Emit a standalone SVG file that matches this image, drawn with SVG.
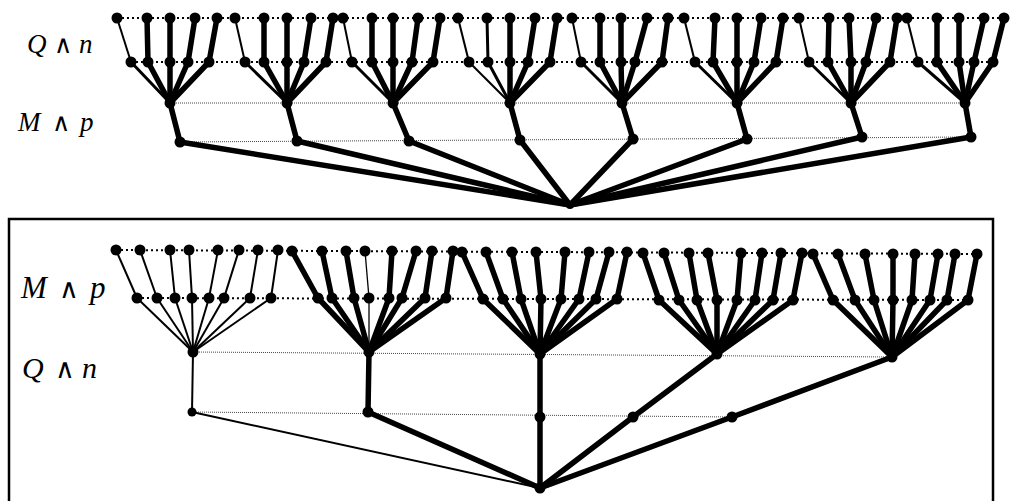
<svg xmlns="http://www.w3.org/2000/svg" width="1010" height="501" viewBox="0 0 1010 501">
<style>
.k{stroke:#000;stroke-width:5.5;stroke-linecap:round;fill:none}
.m{stroke:#000;stroke-width:3;stroke-linecap:round;fill:none}
.s{stroke:#000;stroke-width:2;fill:none}
.h{stroke:#000;stroke-width:1.3;fill:none}
.dot{stroke:#000;stroke-width:2;stroke-dasharray:2 3;fill:none}
.fine{stroke:#444;stroke-width:1;stroke-dasharray:1 1;fill:none}
circle{fill:#000}
.v{font-family:"Liberation Serif","Times New Roman",serif;font-style:italic;fill:#000}
.wg{font-family:"DejaVu Sans",sans-serif;font-style:normal;font-weight:200;fill:#000}
</style>
<rect x="9" y="219" width="984" height="300" fill="none" stroke="#000" stroke-width="2.5"/>
<g id="labels">
<text class="v" x="27" y="53" font-size="27">Q</text><text class="wg" x="54" y="53" font-size="25">∧</text><text class="v" x="79" y="53" font-size="27">n</text>
<text class="v" x="18" y="131" font-size="27">M</text><text class="wg" x="52" y="131" font-size="25">∧</text><text class="v" x="80" y="131" font-size="27">p</text>
<text class="v" x="21" y="298" font-size="31">M</text><text class="wg" x="59" y="298" font-size="27">∧</text><text class="v" x="90" y="298" font-size="31">p</text>
<text class="v" x="22" y="378" font-size="30">Q</text><text class="wg" x="55" y="378" font-size="27">∧</text><text class="v" x="82" y="378" font-size="30">n</text>
</g>
<g id="levels">
<line class="dot" x1="117" y1="18" x2="1005" y2="18"/>
<line class="dot" x1="131" y1="62" x2="993" y2="62"/>
<line class="fine" x1="170" y1="103" x2="965" y2="103"/>
<line class="fine" x1="180" y1="142" x2="971" y2="137"/>
<line class="dot" x1="116" y1="250" x2="977" y2="254"/>
<line class="dot" x1="137" y1="298" x2="968" y2="300"/>
<line class="fine" x1="193" y1="352" x2="892" y2="357"/>
<line class="fine" x1="192" y1="412" x2="732" y2="417"/>
</g>
<g id="connectors">
<line class="s" x1="117" y1="18" x2="131" y2="62"/><line class="k" x1="147" y1="18" x2="148" y2="62"/><line class="k" x1="170" y1="18" x2="170" y2="62"/><line class="k" x1="195" y1="18" x2="188" y2="62"/><line class="k" x1="217" y1="18" x2="209" y2="62"/>
<line class="m" x1="131" y1="62" x2="170" y2="103"/><line class="k" x1="148" y1="62" x2="170" y2="103"/><line class="k" x1="170" y1="62" x2="170" y2="103"/><line class="k" x1="188" y1="62" x2="170" y2="103"/><line class="k" x1="209" y1="62" x2="170" y2="103"/>
<line class="k" x1="170" y1="103" x2="180" y2="142"/><line class="k" x1="180" y1="142" x2="570" y2="205"/>
<line class="s" x1="235" y1="18" x2="245" y2="62"/><line class="k" x1="264" y1="18" x2="264" y2="62"/><line class="k" x1="287" y1="18" x2="287" y2="62"/><line class="k" x1="311" y1="18" x2="304" y2="62"/><line class="k" x1="333" y1="18" x2="326" y2="62"/>
<line class="m" x1="245" y1="62" x2="287" y2="103"/><line class="k" x1="264" y1="62" x2="287" y2="103"/><line class="k" x1="287" y1="62" x2="287" y2="103"/><line class="k" x1="304" y1="62" x2="287" y2="103"/><line class="k" x1="326" y1="62" x2="287" y2="103"/>
<line class="k" x1="287" y1="103" x2="297" y2="141"/><line class="k" x1="297" y1="141" x2="570" y2="205"/>
<line class="s" x1="343" y1="18" x2="352" y2="62"/><line class="k" x1="372" y1="18" x2="372" y2="62"/><line class="k" x1="393" y1="18" x2="393" y2="62"/><line class="k" x1="418" y1="18" x2="412" y2="62"/><line class="k" x1="440" y1="18" x2="433" y2="62"/>
<line class="m" x1="352" y1="62" x2="393" y2="103"/><line class="k" x1="372" y1="62" x2="393" y2="103"/><line class="k" x1="393" y1="62" x2="393" y2="103"/><line class="k" x1="412" y1="62" x2="393" y2="103"/><line class="k" x1="433" y1="62" x2="393" y2="103"/>
<line class="k" x1="393" y1="103" x2="409" y2="141"/><line class="k" x1="409" y1="141" x2="570" y2="205"/>
<line class="s" x1="458" y1="18" x2="469" y2="62"/><line class="m" x1="487" y1="18" x2="488" y2="62"/><line class="k" x1="510" y1="18" x2="510" y2="62"/><line class="k" x1="535" y1="18" x2="528" y2="62"/><line class="k" x1="557" y1="18" x2="550" y2="62"/>
<line class="s" x1="469" y1="62" x2="510" y2="103"/><line class="m" x1="488" y1="62" x2="510" y2="103"/><line class="k" x1="510" y1="62" x2="510" y2="103"/><line class="k" x1="528" y1="62" x2="510" y2="103"/><line class="k" x1="550" y1="62" x2="510" y2="103"/>
<line class="k" x1="510" y1="103" x2="520" y2="140"/><line class="k" x1="520" y1="140" x2="570" y2="205"/>
<line class="s" x1="572" y1="18" x2="581" y2="62"/><line class="k" x1="600" y1="18" x2="600" y2="62"/><line class="k" x1="621" y1="18" x2="621" y2="62"/><line class="k" x1="647" y1="18" x2="635" y2="62"/><line class="k" x1="668" y1="18" x2="662" y2="62"/>
<line class="m" x1="581" y1="62" x2="622" y2="103"/><line class="k" x1="600" y1="62" x2="622" y2="103"/><line class="k" x1="621" y1="62" x2="622" y2="103"/><line class="k" x1="635" y1="62" x2="622" y2="103"/><line class="k" x1="662" y1="62" x2="622" y2="103"/>
<line class="k" x1="622" y1="103" x2="633" y2="139"/><line class="k" x1="633" y1="139" x2="570" y2="205"/>
<line class="s" x1="684" y1="18" x2="695" y2="62"/><line class="k" x1="715" y1="18" x2="713" y2="62"/><line class="k" x1="737" y1="18" x2="737" y2="62"/><line class="k" x1="761" y1="18" x2="754" y2="62"/><line class="k" x1="783" y1="18" x2="776" y2="62"/>
<line class="m" x1="695" y1="62" x2="737" y2="103"/><line class="k" x1="713" y1="62" x2="737" y2="103"/><line class="k" x1="737" y1="62" x2="737" y2="103"/><line class="k" x1="754" y1="62" x2="737" y2="103"/><line class="k" x1="776" y1="62" x2="737" y2="103"/>
<line class="k" x1="737" y1="103" x2="747" y2="139"/><line class="k" x1="747" y1="139" x2="570" y2="205"/>
<line class="s" x1="799" y1="18" x2="809" y2="62"/><line class="k" x1="829" y1="18" x2="828" y2="62"/><line class="k" x1="849" y1="18" x2="851" y2="62"/><line class="k" x1="876" y1="18" x2="866" y2="62"/><line class="k" x1="897" y1="18" x2="890" y2="62"/>
<line class="m" x1="809" y1="62" x2="851" y2="103"/><line class="k" x1="828" y1="62" x2="851" y2="103"/><line class="k" x1="851" y1="62" x2="851" y2="103"/><line class="k" x1="866" y1="62" x2="851" y2="103"/><line class="k" x1="890" y1="62" x2="851" y2="103"/>
<line class="k" x1="851" y1="103" x2="862" y2="137"/><line class="k" x1="862" y1="137" x2="570" y2="205"/>
<line class="s" x1="907" y1="18" x2="918" y2="62"/><line class="k" x1="937" y1="18" x2="937" y2="62"/><line class="k" x1="959" y1="18" x2="959" y2="62"/><line class="k" x1="984" y1="18" x2="974" y2="62"/><line class="k" x1="1004" y1="18" x2="993" y2="62"/>
<line class="m" x1="918" y1="62" x2="965" y2="103"/><line class="k" x1="937" y1="62" x2="965" y2="103"/><line class="k" x1="959" y1="62" x2="965" y2="103"/><line class="k" x1="974" y1="62" x2="965" y2="103"/><line class="k" x1="993" y1="62" x2="965" y2="103"/>
<line class="k" x1="965" y1="103" x2="971" y2="137"/><line class="k" x1="971" y1="137" x2="570" y2="205"/>
<line class="s" x1="116" y1="250" x2="137" y2="298"/><line class="s" x1="140" y1="250" x2="157" y2="298"/><line class="s" x1="170" y1="250" x2="175" y2="298"/><line class="s" x1="189" y1="250" x2="192" y2="298"/><line class="s" x1="218" y1="250" x2="209" y2="298"/><line class="s" x1="239" y1="250" x2="224" y2="298"/><line class="s" x1="258" y1="250" x2="250" y2="298"/><line class="s" x1="278" y1="250" x2="271" y2="298"/>
<line class="s" x1="137" y1="298" x2="193" y2="352"/><line class="s" x1="157" y1="298" x2="193" y2="352"/><line class="s" x1="175" y1="298" x2="193" y2="352"/><line class="s" x1="192" y1="298" x2="193" y2="352"/><line class="s" x1="209" y1="298" x2="193" y2="352"/><line class="s" x1="224" y1="298" x2="193" y2="352"/><line class="s" x1="250" y1="298" x2="193" y2="352"/><line class="s" x1="271" y1="298" x2="193" y2="352"/>
<line class="s" x1="193" y1="352" x2="192" y2="412"/><line class="s" x1="192" y1="412" x2="540" y2="488"/>
<line class="k" x1="292" y1="251" x2="318" y2="298"/><line class="k" x1="322" y1="251" x2="332" y2="298"/><line class="k" x1="346" y1="251" x2="354" y2="298"/><line class="h" x1="365" y1="251" x2="369" y2="298"/><line class="k" x1="392" y1="251" x2="389" y2="298"/><line class="k" x1="416" y1="251" x2="402" y2="298"/><line class="k" x1="432" y1="251" x2="425" y2="298"/><line class="k" x1="453" y1="251" x2="446" y2="298"/>
<line class="k" x1="318" y1="298" x2="369" y2="352"/><line class="k" x1="332" y1="298" x2="369" y2="352"/><line class="k" x1="354" y1="298" x2="369" y2="352"/><line class="h" x1="369" y1="298" x2="369" y2="352"/><line class="k" x1="389" y1="298" x2="369" y2="352"/><line class="k" x1="402" y1="298" x2="369" y2="352"/><line class="k" x1="425" y1="298" x2="369" y2="352"/><line class="k" x1="446" y1="298" x2="369" y2="352"/>
<line class="k" x1="369" y1="352" x2="368" y2="412"/><line class="k" x1="368" y1="412" x2="540" y2="488"/>
<line class="k" x1="462" y1="252" x2="483" y2="299"/><line class="k" x1="486" y1="252" x2="503" y2="299"/><line class="k" x1="512" y1="252" x2="521" y2="299"/><line class="k" x1="536" y1="252" x2="541" y2="299"/><line class="k" x1="565" y1="252" x2="561" y2="299"/><line class="k" x1="589" y1="252" x2="579" y2="299"/><line class="k" x1="609" y1="252" x2="596" y2="299"/><line class="k" x1="627" y1="252" x2="617" y2="299"/>
<line class="k" x1="483" y1="299" x2="540" y2="354"/><line class="k" x1="503" y1="299" x2="540" y2="354"/><line class="k" x1="521" y1="299" x2="540" y2="354"/><line class="k" x1="541" y1="299" x2="540" y2="354"/><line class="k" x1="561" y1="299" x2="540" y2="354"/><line class="k" x1="579" y1="299" x2="540" y2="354"/><line class="k" x1="596" y1="299" x2="540" y2="354"/><line class="k" x1="617" y1="299" x2="540" y2="354"/>
<line class="k" x1="540" y1="354" x2="540" y2="417"/><line class="k" x1="540" y1="417" x2="540" y2="488"/>
<line class="k" x1="643" y1="253" x2="659" y2="300"/><line class="k" x1="664" y1="253" x2="679" y2="300"/><line class="k" x1="689" y1="253" x2="697" y2="300"/><line class="k" x1="708" y1="253" x2="717" y2="300"/><line class="k" x1="741" y1="253" x2="737" y2="300"/><line class="k" x1="762" y1="253" x2="755" y2="300"/><line class="k" x1="781" y1="253" x2="773" y2="300"/><line class="k" x1="802" y1="253" x2="793" y2="300"/>
<line class="k" x1="659" y1="300" x2="717" y2="354"/><line class="k" x1="679" y1="300" x2="717" y2="354"/><line class="k" x1="697" y1="300" x2="717" y2="354"/><line class="k" x1="717" y1="300" x2="717" y2="354"/><line class="k" x1="737" y1="300" x2="717" y2="354"/><line class="k" x1="755" y1="300" x2="717" y2="354"/><line class="k" x1="773" y1="300" x2="717" y2="354"/><line class="k" x1="793" y1="300" x2="717" y2="354"/>
<line class="k" x1="717" y1="354" x2="633" y2="417"/><line class="k" x1="633" y1="417" x2="540" y2="488"/>
<line class="k" x1="813" y1="254" x2="833" y2="300"/><line class="k" x1="838" y1="254" x2="855" y2="300"/><line class="k" x1="865" y1="254" x2="874" y2="300"/><line class="k" x1="893" y1="254" x2="893" y2="300"/><line class="k" x1="915" y1="254" x2="912" y2="300"/><line class="k" x1="938" y1="254" x2="930" y2="300"/><line class="k" x1="955" y1="254" x2="947" y2="300"/><line class="k" x1="977" y1="254" x2="968" y2="300"/>
<line class="k" x1="833" y1="300" x2="892" y2="357"/><line class="k" x1="855" y1="300" x2="892" y2="357"/><line class="k" x1="874" y1="300" x2="892" y2="357"/><line class="k" x1="893" y1="300" x2="892" y2="357"/><line class="k" x1="912" y1="300" x2="892" y2="357"/><line class="k" x1="930" y1="300" x2="892" y2="357"/><line class="k" x1="947" y1="300" x2="892" y2="357"/><line class="k" x1="968" y1="300" x2="892" y2="357"/>
<line class="k" x1="892" y1="357" x2="732" y2="417"/><line class="k" x1="732" y1="417" x2="540" y2="488"/>
</g>
<g id="top-nodes">
<g id="t1"><circle cx="117" cy="18" r="5.5"/><circle cx="147" cy="18" r="5.5"/><circle cx="170" cy="18" r="5.5"/><circle cx="195" cy="18" r="5.5"/><circle cx="217" cy="18" r="5.5"/><circle cx="131" cy="62" r="5.5"/><circle cx="148" cy="62" r="5.5"/><circle cx="170" cy="62" r="5.5"/><circle cx="188" cy="62" r="5.5"/><circle cx="209" cy="62" r="5.5"/><circle cx="170" cy="103" r="5.5"/><circle cx="180" cy="142" r="5.5"/></g>
<g id="t2"><circle cx="235" cy="18" r="5.5"/><circle cx="264" cy="18" r="5.5"/><circle cx="287" cy="18" r="5.5"/><circle cx="311" cy="18" r="5.5"/><circle cx="333" cy="18" r="5.5"/><circle cx="245" cy="62" r="5.5"/><circle cx="264" cy="62" r="5.5"/><circle cx="287" cy="62" r="5.5"/><circle cx="304" cy="62" r="5.5"/><circle cx="326" cy="62" r="5.5"/><circle cx="287" cy="103" r="5.5"/><circle cx="297" cy="141" r="5.5"/></g>
<g id="t3"><circle cx="343" cy="18" r="5.5"/><circle cx="372" cy="18" r="5.5"/><circle cx="393" cy="18" r="5.5"/><circle cx="418" cy="18" r="5.5"/><circle cx="440" cy="18" r="5.5"/><circle cx="352" cy="62" r="5.5"/><circle cx="372" cy="62" r="5.5"/><circle cx="393" cy="62" r="5.5"/><circle cx="412" cy="62" r="5.5"/><circle cx="433" cy="62" r="5.5"/><circle cx="393" cy="103" r="5.5"/><circle cx="409" cy="141" r="5.5"/></g>
<g id="t4"><circle cx="458" cy="18" r="5.5"/><circle cx="487" cy="18" r="5.5"/><circle cx="510" cy="18" r="5.5"/><circle cx="535" cy="18" r="5.5"/><circle cx="557" cy="18" r="5.5"/><circle cx="469" cy="62" r="5.5"/><circle cx="488" cy="62" r="5.5"/><circle cx="510" cy="62" r="5.5"/><circle cx="528" cy="62" r="5.5"/><circle cx="550" cy="62" r="5.5"/><circle cx="510" cy="103" r="5.5"/><circle cx="520" cy="140" r="5.5"/></g>
<g id="t5"><circle cx="572" cy="18" r="5.5"/><circle cx="600" cy="18" r="5.5"/><circle cx="621" cy="18" r="5.5"/><circle cx="647" cy="18" r="5.5"/><circle cx="668" cy="18" r="5.5"/><circle cx="581" cy="62" r="5.5"/><circle cx="600" cy="62" r="5.5"/><circle cx="621" cy="62" r="5.5"/><circle cx="635" cy="62" r="5.5"/><circle cx="662" cy="62" r="5.5"/><circle cx="622" cy="103" r="5.5"/><circle cx="633" cy="139" r="5.5"/></g>
<g id="t6"><circle cx="684" cy="18" r="5.5"/><circle cx="715" cy="18" r="5.5"/><circle cx="737" cy="18" r="5.5"/><circle cx="761" cy="18" r="5.5"/><circle cx="783" cy="18" r="5.5"/><circle cx="695" cy="62" r="5.5"/><circle cx="713" cy="62" r="5.5"/><circle cx="737" cy="62" r="5.5"/><circle cx="754" cy="62" r="5.5"/><circle cx="776" cy="62" r="5.5"/><circle cx="737" cy="103" r="5.5"/><circle cx="747" cy="139" r="5.5"/></g>
<g id="t7"><circle cx="799" cy="18" r="5.5"/><circle cx="829" cy="18" r="5.5"/><circle cx="849" cy="18" r="5.5"/><circle cx="876" cy="18" r="5.5"/><circle cx="897" cy="18" r="5.5"/><circle cx="809" cy="62" r="5.5"/><circle cx="828" cy="62" r="5.5"/><circle cx="851" cy="62" r="5.5"/><circle cx="866" cy="62" r="5.5"/><circle cx="890" cy="62" r="5.5"/><circle cx="851" cy="103" r="5.5"/><circle cx="862" cy="137" r="5.5"/></g>
<g id="t8"><circle cx="907" cy="18" r="5.5"/><circle cx="937" cy="18" r="5.5"/><circle cx="959" cy="18" r="5.5"/><circle cx="984" cy="18" r="5.5"/><circle cx="1004" cy="18" r="5.5"/><circle cx="918" cy="62" r="5.5"/><circle cx="937" cy="62" r="5.5"/><circle cx="959" cy="62" r="5.5"/><circle cx="974" cy="62" r="5.5"/><circle cx="993" cy="62" r="5.5"/><circle cx="965" cy="103" r="5.5"/><circle cx="971" cy="137" r="5.5"/></g>
<g id="top-root"><circle cx="570" cy="205" r="4"/></g>
</g>
<g id="bottom-nodes">
<g id="bA"><circle cx="116" cy="250" r="5.5"/><circle cx="140" cy="250" r="5.5"/><circle cx="170" cy="250" r="5.5"/><circle cx="189" cy="250" r="5.5"/><circle cx="218" cy="250" r="5.5"/><circle cx="239" cy="250" r="5.5"/><circle cx="258" cy="250" r="5.5"/><circle cx="278" cy="250" r="5.5"/><circle cx="137" cy="298" r="5.5"/><circle cx="157" cy="298" r="5.5"/><circle cx="175" cy="298" r="5.5"/><circle cx="192" cy="298" r="5.5"/><circle cx="209" cy="298" r="5.5"/><circle cx="224" cy="298" r="5.5"/><circle cx="250" cy="298" r="5.5"/><circle cx="271" cy="298" r="5.5"/><circle cx="193" cy="352" r="5.5"/><circle cx="192" cy="412" r="4.5"/></g>
<g id="bB"><circle cx="292" cy="251" r="5.5"/><circle cx="322" cy="251" r="5.5"/><circle cx="346" cy="251" r="5.5"/><circle cx="365" cy="251" r="5.5"/><circle cx="392" cy="251" r="5.5"/><circle cx="416" cy="251" r="5.5"/><circle cx="432" cy="251" r="5.5"/><circle cx="453" cy="251" r="5.5"/><circle cx="318" cy="298" r="5.5"/><circle cx="332" cy="298" r="5.5"/><circle cx="354" cy="298" r="5.5"/><circle cx="369" cy="298" r="5.5"/><circle cx="389" cy="298" r="5.5"/><circle cx="402" cy="298" r="5.5"/><circle cx="425" cy="298" r="5.5"/><circle cx="446" cy="298" r="5.5"/><circle cx="369" cy="352" r="5.5"/><circle cx="368" cy="412" r="5.5"/></g>
<g id="bC"><circle cx="462" cy="252" r="5.5"/><circle cx="486" cy="252" r="5.5"/><circle cx="512" cy="252" r="5.5"/><circle cx="536" cy="252" r="5.5"/><circle cx="565" cy="252" r="5.5"/><circle cx="589" cy="252" r="5.5"/><circle cx="609" cy="252" r="5.5"/><circle cx="627" cy="252" r="5.5"/><circle cx="483" cy="299" r="5.5"/><circle cx="503" cy="299" r="5.5"/><circle cx="521" cy="299" r="5.5"/><circle cx="541" cy="299" r="5.5"/><circle cx="561" cy="299" r="5.5"/><circle cx="579" cy="299" r="5.5"/><circle cx="596" cy="299" r="5.5"/><circle cx="617" cy="299" r="5.5"/><circle cx="540" cy="354" r="5.5"/><circle cx="540" cy="417" r="5.5"/></g>
<g id="bD"><circle cx="643" cy="253" r="5.5"/><circle cx="664" cy="253" r="5.5"/><circle cx="689" cy="253" r="5.5"/><circle cx="708" cy="253" r="5.5"/><circle cx="741" cy="253" r="5.5"/><circle cx="762" cy="253" r="5.5"/><circle cx="781" cy="253" r="5.5"/><circle cx="802" cy="253" r="5.5"/><circle cx="659" cy="300" r="5.5"/><circle cx="679" cy="300" r="5.5"/><circle cx="697" cy="300" r="5.5"/><circle cx="717" cy="300" r="5.5"/><circle cx="737" cy="300" r="5.5"/><circle cx="755" cy="300" r="5.5"/><circle cx="773" cy="300" r="5.5"/><circle cx="793" cy="300" r="5.5"/><circle cx="717" cy="354" r="5.5"/><circle cx="633" cy="417" r="5.5"/></g>
<g id="bE"><circle cx="813" cy="254" r="5.5"/><circle cx="838" cy="254" r="5.5"/><circle cx="865" cy="254" r="5.5"/><circle cx="893" cy="254" r="5.5"/><circle cx="915" cy="254" r="5.5"/><circle cx="938" cy="254" r="5.5"/><circle cx="955" cy="254" r="5.5"/><circle cx="977" cy="254" r="5.5"/><circle cx="833" cy="300" r="5.5"/><circle cx="855" cy="300" r="5.5"/><circle cx="874" cy="300" r="5.5"/><circle cx="893" cy="300" r="5.5"/><circle cx="912" cy="300" r="5.5"/><circle cx="930" cy="300" r="5.5"/><circle cx="947" cy="300" r="5.5"/><circle cx="968" cy="300" r="5.5"/><circle cx="892" cy="357" r="5.5"/><circle cx="732" cy="417" r="5.5"/></g>
<g id="bottom-root"><circle cx="540" cy="488" r="5.5"/></g>
</g>
</svg>
